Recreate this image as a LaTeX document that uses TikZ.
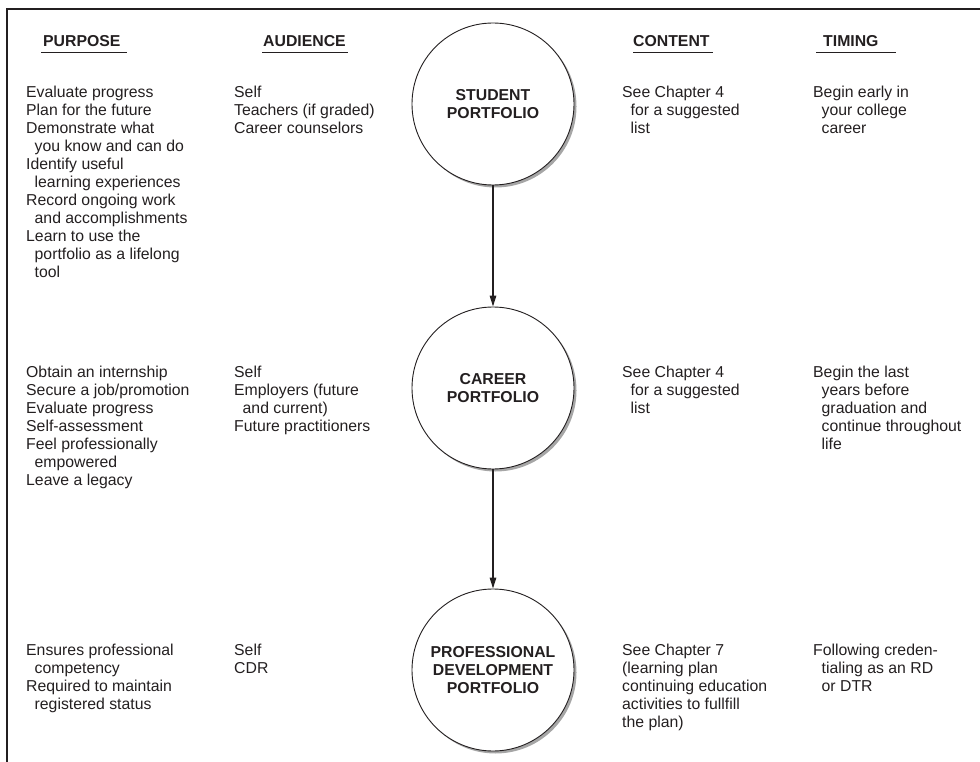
\documentclass[tikz,border=0pt]{standalone}
\usepackage{fontspec}
\setmainfont{Liberation Sans}
\usetikzlibrary{arrows.meta,shadows}
\definecolor{ink}{HTML}{231F20}
\newcommand{\bodyfnt}{\fontsize{15.8}{18}\selectfont}
\newcommand{\headfnt}{\fontsize{15.8}{18}\selectfont\bfseries}
\newcommand{\ind}{\hspace*{8.5pt}}
\begin{document}
\begin{tikzpicture}[x=1pt,y=-1pt,
  body/.style={anchor=north west, align=left, inner sep=0pt, text=ink, font=\bodyfnt},
  head/.style={anchor=base west, inner sep=0pt, text=ink, font=\headfnt},
  uline/.style={draw=ink, line width=1pt},
  port/.style={circle, draw=ink, line width=0.9pt, fill=white, minimum size=162pt, inner sep=0pt,
    align=center, text=ink, font=\headfnt,
    drop shadow={shadow xshift=2.5pt, shadow yshift=-2.5pt, fill=black!35, opacity=1}},
  flow/.style={draw=ink, line width=1.4pt, -{Triangle[length=11pt,width=6.5pt]}},
  frame/.style={draw=ink, line width=1.3pt}
]
\useasboundingbox (0,0) rectangle (980,762);
% frame
\draw[frame] (7,762) -- (7,9) -- (980,9);

% headers
\node[head] (hp) at (43,47) {PURPOSE};
\node[head] (ha) at (263,47) {AUDIENCE};
\node[head] (hc) at (633,47) {CONTENT};
\node[head] (ht) at (823,47) {TIMING};
\draw[uline] (41,53) -- (127,53);
\draw[uline] (262,53) -- (348,53);
\draw[uline] (633,53) -- (713,53);
\draw[uline] (816,53) -- (896,53);

% circles
\node[port] (c1) at (493,104) {STUDENT\\PORTFOLIO};
\node[port] (c2) at (493,388) {CAREER\\PORTFOLIO};
\node[port] (c3) at (493,670) {PROFESSIONAL\\DEVELOPMENT\\PORTFOLIO};
\draw[flow] (c1) -- (c2);
\draw[flow] (c2) -- (c3);

% row 1
\node[body] (p1) at (26,84.4) {\strut Evaluate progress\\Plan for the future\\Demonstrate what\\\ind you know and can do\\Identify useful\\\ind learning experiences\\Record ongoing work\\\ind and accomplishments\\Learn to use the\\\ind portfolio as a lifelong\\\ind tool};
\node[body] (a1) at (234,84.4) {\strut Self\\Teachers (if graded)\\Career counselors};
\node[body] (n1) at (622,84.4) {\strut See Chapter 4\\\ind for a suggested\\\ind list};
\node[body] (t1) at (813,84.4) {\strut Begin early in\\\ind your college\\\ind career};

% row 2
\node[body] (p2) at (26,364.4) {\strut Obtain an internship\\Secure a job/promotion\\Evaluate progress\\Self-assessment\\Feel professionally\\\ind empowered\\Leave a legacy};
\node[body] (a2) at (234,364.4) {\strut Self\\Employers (future\\\ind and current)\\Future practitioners};
\node[body] (n2) at (622,364.4) {\strut See Chapter 4\\\ind for a suggested\\\ind list};
\node[body] (t2) at (813,364.4) {\strut Begin the last\\\ind years before\\\ind graduation and\\\ind continue throughout\\\ind life};

% row 3
\node[body] (p3) at (26,642.4) {\strut Ensures professional\\\ind competency\\Required to maintain\\\ind registered status};
\node[body] (a3) at (234,642.4) {\strut Self\\CDR};
\node[body] (n3) at (622,642.4) {\strut See Chapter 7\\(learning plan\\continuing education\\activities to fullfill\\the plan)};
\node[body] (t3) at (813,642.4) {\strut Following creden-\\\ind tialing as an RD\\\ind or DTR};
\end{tikzpicture}
\end{document}
